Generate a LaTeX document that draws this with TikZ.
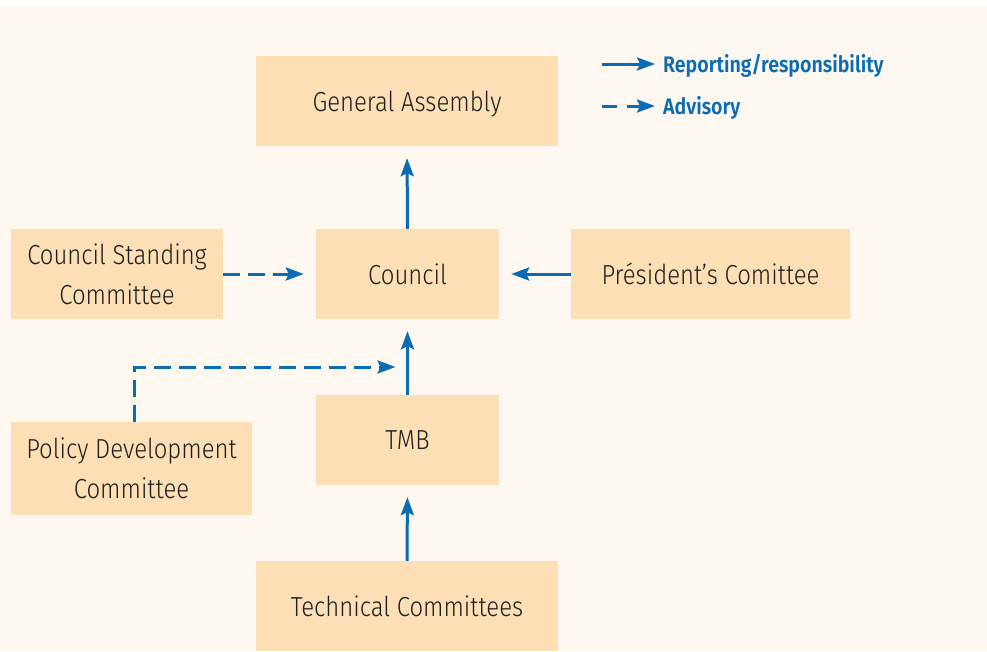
\documentclass[tikz,border=0pt]{standalone}
\usepackage{fontspec}
\setmainfont{Fira Sans}[UprightFont=* Light, BoldFont=* SemiBold, FakeStretch=0.87]
\usetikzlibrary{arrows.meta}
\definecolor{bgcream}{HTML}{FEF8F1}
\definecolor{boxpeach}{HTML}{FDDFB5}
\definecolor{linkblue}{HTML}{0A6CB5}
\definecolor{textdark}{HTML}{1E1E1E}

\begin{document}
\begin{tikzpicture}[
      x=1pt,y=-1pt,
      box/.style={rectangle,fill=boxpeach,text=textdark,align=center,inner sep=0pt,text depth=0pt,
        font=\fontsize{27.5}{40}\selectfont},
      pointer/.style={line width=3pt, shorten >=12pt, -{Stealth[length=18pt,width=13pt,inset=3pt]},draw=linkblue},
      dpointer/.style={pointer, dash pattern=on 17pt off 8pt},
      legend/.style={text=linkblue,inner sep=0pt,anchor=west,text depth=0pt,font=\fontsize{22.5}{24}\selectfont\bfseries}
      ]
      \useasboundingbox (0,0) rectangle (987,651);
      \fill[bgcream] (0,6) rectangle (987,651);
      % boxes
      \node[box, minimum width=302pt, minimum height=90pt] (ga) at (407,101) {General Assembly};
      \node[box, minimum width=183pt, minimum height=90pt] (council) at (407.5,274) {Council};
      \node[box, minimum width=212pt, minimum height=90pt] (csc) at (117,274) {Council Standing\\Committee};
      \node[box, minimum width=279pt, minimum height=90pt] (pres) at (710.5,274) {Président’s Comittee};
      \node[box, minimum width=183pt, minimum height=90pt] (tmb) at (407.5,440) {TMB};
      \node[box, minimum width=241pt, minimum height=93pt] (pdc) at (131.5,468.5) {Policy Development\\Committee};
      \node[box, minimum width=302pt, minimum height=90pt] (tc) at (407,606) {Technical Committees};
      % links
      \path (council.north) edge [pointer] (ga.south);
      \path (csc.east) edge [dpointer] (council.west);
      \path (pres.west) edge [pointer] (council.east);
      \path (tmb.north) edge [pointer] (council.south);
      \path (tc.north) edge [pointer] (tmb.south);
      \coordinate (join) at (407.5,367);
      \draw[dpointer] ([xshift=2.5pt]pdc.north) |- (join);
      % legend
      \coordinate (rep) at (602,64);
      \coordinate (adv) at (602,106);
      \node[legend] (reptext) at (663,63) {Reporting/responsibility};
      \node[legend] (advtext) at (663,105) {Advisory};
      \path (rep) edge [pointer, shorten >=8pt] (reptext.west |- rep);
      \path (adv) edge [dpointer, shorten >=8pt, dash pattern=on 15pt off 10pt] (advtext.west |- adv);
    \end{tikzpicture}
\end{document}
